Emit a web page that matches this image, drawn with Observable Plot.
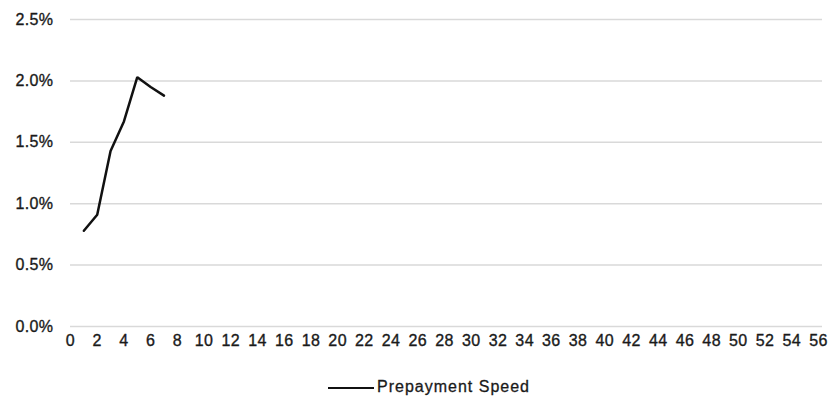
<!DOCTYPE html>
<html>
<head>
<meta charset="utf-8">
<script src="https://cdn.jsdelivr.net/npm/d3@7"></script>
<script src="https://cdn.jsdelivr.net/npm/@observablehq/plot@0.6"></script>
<style>
  body { margin: 0; background: #fff; }
  #chart svg text { letter-spacing: 0.4px; stroke: #1a1a1a; stroke-width: 0.35px; paint-order: stroke; }
  #legend { position: relative; width: 833px; height: 29px; font-family: "Liberation Sans", Arial, sans-serif; font-size: 16px; color: #1a1a1a; letter-spacing: 1px; -webkit-text-stroke: 0.3px #1a1a1a; }
  #legend .swatch { position: absolute; left: 328px; top: 15px; width: 46px; height: 2px; background: #111; }
  #legend .label { position: absolute; left: 377px; top: 6px; line-height: 18px; }
</style>
</head>
<body>
<div id="chart"></div>
<div id="legend"><span class="swatch"></span><span class="label">Prepayment Speed</span></div>
<script>
const months = [1, 2, 3, 4, 5, 6, 7];
const prepaymentSpeedPct = [0.78, 0.91, 1.43, 1.67, 2.03, 1.95, 1.88];
const xTicks = [0, 2, 4, 6, 8, 10, 12, 14, 16, 18, 20, 22, 24, 26, 28, 30, 32, 34, 36, 38, 40, 42, 44, 46, 48, 50, 52, 54, 56];
const yTicks = [0, 0.005, 0.01, 0.015, 0.02, 0.025];

const data = months.map((m, i) => ({month: m, speed: prepaymentSpeedPct[i] / 100}));
const xMax = 56.3;

const chart = Plot.plot({
  width: 833,
  height: 372,
  marginLeft: 70,
  marginRight: 11,
  marginTop: 19,
  marginBottom: 46,
  style: {fontFamily: "'Liberation Sans', Arial, sans-serif", fontSize: "16px", color: "#1a1a1a", background: "#fff"},
  x: {domain: [0, xMax], ticks: xTicks, tickSize: 0, tickPadding: 8, label: null, tickFormat: d => String(d)},
  y: {domain: [0, 0.025], ticks: yTicks, tickSize: 0, tickPadding: 17, label: null, tickFormat: d => (d * 100).toFixed(1) + "%"},
  marks: [
    Plot.ruleY(yTicks, {x1: 0, x2: xMax, stroke: "#d9d9d9", strokeWidth: 1.5}),
    Plot.line(data, {x: "month", y: "speed", stroke: "#111", strokeWidth: 2.5, strokeLinejoin: "miter"})
  ]
});
document.getElementById("chart").append(chart);
</script>
</body>
</html>
